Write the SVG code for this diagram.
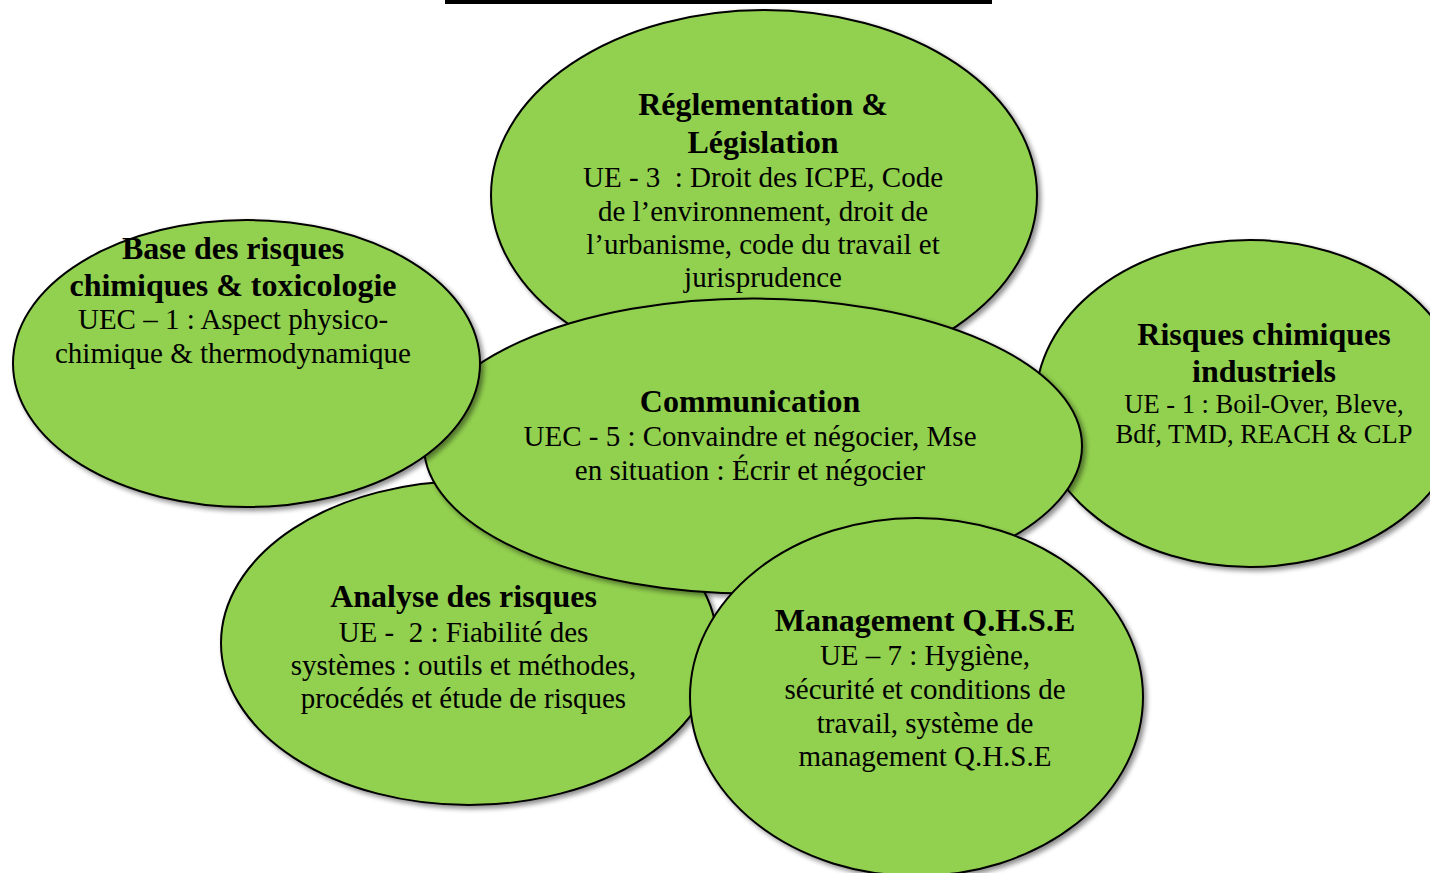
<svg xmlns="http://www.w3.org/2000/svg" width="1430" height="873" viewBox="0 0 1430 873">
  <defs>
    <filter id="shadow" x="-10%" y="-10%" width="125%" height="125%">
      <feGaussianBlur in="SourceAlpha" stdDeviation="2.5"/>
      <feOffset dx="3" dy="3" result="b"/>
      <feComponentTransfer><feFuncA type="linear" slope="0.45"/></feComponentTransfer>
      <feMerge><feMergeNode/><feMergeNode in="SourceGraphic"/></feMerge>
    </filter>
  </defs>
  <style>
    .bub { fill: #92D050; stroke: #000; stroke-width: 2; filter: url(#shadow); }
    .t { font-family: "Liberation Serif", "Times New Roman", serif; fill: #000; text-anchor: middle; }
    .h { font-size: 32px; font-weight: bold; }
    .r { font-size: 29px; }
    .rs { font-size: 26.5px; }
  </style>
  <rect x="445" y="0" width="547" height="4" fill="#000"/>
  <g id="connectors"/>
  <g id="reglementation">
    <ellipse class="bub" cx="764" cy="195" rx="273" ry="185"/>
    <text class="t h" x="763" y="115">Réglementation &amp;</text>
    <text class="t h" x="763" y="152.5">Législation</text>
    <text class="t r" x="763" y="186.7">UE - 3&#160; : Droit des ICPE, Code</text>
    <text class="t r" x="763" y="220.7">de l’environnement, droit de</text>
    <text class="t r" x="763" y="254.3">l’urbanisme, code du travail et</text>
    <text class="t r" x="763" y="287.3">jurisprudence</text>
  </g>
  <g id="risques-industriels">
    <ellipse class="bub" cx="1250" cy="403.5" rx="214.5" ry="163.5"/>
    <text class="t h" x="1264" y="345">Risques chimiques</text>
    <text class="t h" x="1264" y="382.3">industriels</text>
    <text class="t rs" x="1264" y="413.3">UE - 1 : Boil-Over, Bleve,</text>
    <text class="t rs" x="1264" y="443.3">Bdf, TMD, REACH &amp; CLP</text>
  </g>
  <g id="analyse">
    <ellipse class="bub" cx="469" cy="643" rx="248" ry="162"/>
    <text class="t h" x="463.5" y="606.7">Analyse des risques</text>
    <text class="t r" x="463.5" y="641.7">UE -&#160; 2 : Fiabilité des</text>
    <text class="t r" x="463.5" y="675">systèmes : outils et méthodes,</text>
    <text class="t r" x="463.5" y="707.7">procédés et étude de risques</text>
  </g>
  <g id="communication">
    <ellipse class="bub" cx="753" cy="446" rx="329" ry="147.5"/>
    <text class="t h" x="750" y="411.7">Communication</text>
    <text class="t r" x="750" y="445.7">UEC - 5 : Convaindre et négocier, Mse</text>
    <text class="t r" x="750" y="480">en situation : Écrir et négocier</text>
  </g>
  <g id="base-risques">
    <ellipse class="bub" cx="246.5" cy="363.5" rx="233.5" ry="143.5"/>
    <text class="t h" x="233" y="259">Base des risques</text>
    <text class="t h" x="233" y="296">chimiques &amp; toxicologie</text>
    <text class="t r" x="233" y="329.3">UEC – 1 : Aspect physico-</text>
    <text class="t r" x="233" y="363.3">chimique &amp; thermodynamique</text>
  </g>
  <g id="management">
    <ellipse class="bub" cx="916.5" cy="697" rx="226.5" ry="179"/>
    <text class="t h" x="925" y="631">Management Q.H.S.E</text>
    <text class="t r" x="925" y="665">UE – 7 : Hygiène,</text>
    <text class="t r" x="925" y="699.3">sécurité et conditions de</text>
    <text class="t r" x="925" y="733.3">travail, système de</text>
    <text class="t r" x="925" y="766">management Q.H.S.E</text>
  </g>
</svg>
